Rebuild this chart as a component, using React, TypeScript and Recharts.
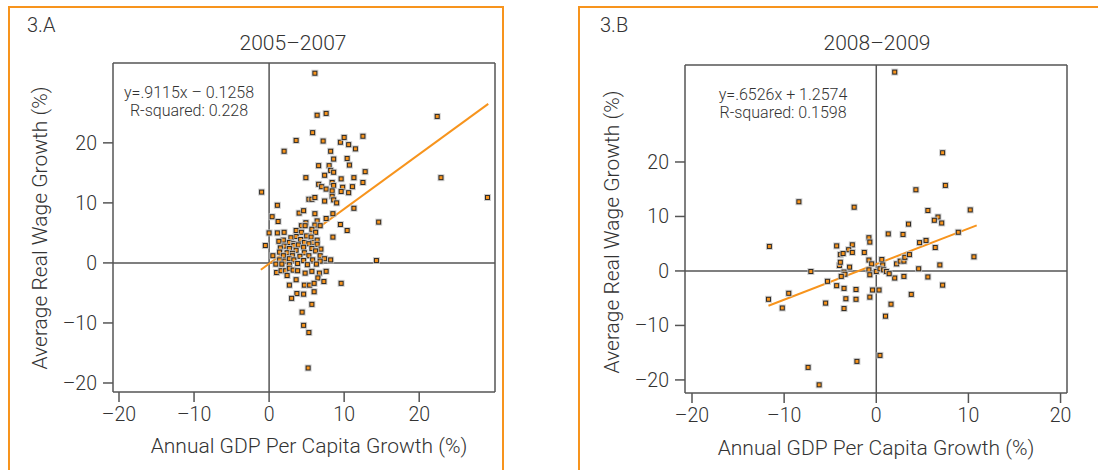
import React from "react"
import { ScatterChart, Scatter, XAxis, YAxis, ReferenceLine } from "recharts"

// 3.A: 2005–2007, GDP per capita growth vs real wage growth (%)
const gdpA = [
  6.1, 6.4, 7.6, 5.8, 3.6, 7.2, 9.5, 10.0, 12.5, 10.6, 11.5, 2.0, 8.2, 8.6, 10.4, 6.6, 8.0, 10.7, 8.2, 8.6,
  12.8, 7.4, 4.9, 9.6, 11.3, 12.5, 8.4, 6.6, 7.0, 7.6, 8.6, 9.8, 11.1, 8.4, 9.6, 10.6, -1.0, 5.3, 5.7, 6.1,
  7.4, 8.4, 8.6, 9.0, 1.1, 11.3, 4.0, 4.6, 6.1, 8.5, 0.4, 1.2, 7.6, 6.4, 4.9, 4.3, 4.8, 6.1, 6.8, 9.5,
  14.6, 3.6, 5.7, 4.3, 6.2, 10.4, 0.0, 1.1, 2.0, 3.6, 5.0, 5.6, 8.5, 2.9, 4.2, 1.9, 1.3, 2.7, 3.3, 4.7,
  5.8, 6.4, -0.5, 2.0, 3.3, 3.9, 5.3, 6.4, 1.5, 2.7, 4.6, 5.7, 6.9, 3.6, 1.4, 2.4, 3.1, 4.7, 6.2, 0.5,
  1.9, 3.1, 4.1, 5.3, 6.8, 7.4, 8.2, 14.3, 1.4, 2.1, 2.7, 3.3, 4.6, 5.8, 6.8, 0.9, 1.7, 2.7, 3.8, 5.1,
  6.3, 1.0, 1.6, 2.2, 2.7, 3.2, 3.8, 4.8, 5.7, 6.7, 7.6, 2.4, 6.5, 3.6, 7.3, 9.6, 2.7, 4.7, 5.4, 6.0,
  3.7, 4.6, 6.0, 3.0, 5.7, 4.4, 4.6, 5.3, 5.2, 22.4, 22.9, 29.1,
]
const wageA = [
  31.6, 24.6, 24.9, 21.7, 20.4, 20.3, 20.1, 20.9, 21.1, 19.7, 19.0, 18.6, 18.6, 17.3, 17.4, 16.2, 16.2, 16.3, 15.4, 15.1,
  15.2, 14.6, 14.2, 14.0, 14.2, 13.4, 13.4, 13.1, 12.7, 12.3, 12.9, 12.6, 12.7, 12.0, 11.9, 11.7, 11.8, 10.6, 10.6, 10.9,
  10.3, 11.1, 10.5, 10.0, 9.6, 9.1, 8.3, 8.7, 8.2, 8.2, 7.7, 6.9, 7.4, 7.0, 6.7, 6.2, 6.2, 6.3, 6.2, 6.4,
  6.8, 5.4, 5.6, 5.1, 5.1, 5.4, 5.0, 5.0, 5.1, 4.4, 4.5, 4.3, 4.3, 4.2, 3.9, 3.8, 3.6, 3.4, 3.2, 3.4,
  3.4, 3.8, 2.9, 2.8, 2.9, 3.0, 3.2, 3.1, 2.5, 2.4, 2.6, 2.4, 2.3, 2.1, 1.8, 1.7, 1.6, 1.7, 2.0, 1.2,
  1.2, 1.2, 1.1, 1.2, 1.2, 0.7, 0.5, 0.4, 0.5, 0.3, 0.7, 0.5, 0.4, 0.5, 0.3, -0.2, -0.2, -0.3, -0.1, -0.3,
  -0.2, -1.6, -1.3, -1.3, -0.9, -1.2, -1.3, -1.7, -1.4, -1.7, -1.4, -2.1, -2.5, -2.8, -3.1, -3.4, -3.7, -3.7, -3.7, -3.4,
  -5.1, -5.2, -4.8, -5.9, -6.9, -8.2, -10.4, -11.6, -17.5, 24.4, 14.2, 10.9,
]

// 3.B: 2008–2009
const gdpB = [
  2.0, 7.2, 7.5, 4.3, -8.4, -2.4, 5.6, 10.2, 6.7, 6.3, 7.1, 3.5, 8.9, 1.3, 2.9, -0.8, -0.7, -11.6, -4.3, -2.6,
  4.7, 5.4, -3.0, -3.9, -3.6, -2.6, -1.3, 6.4, 10.6, -7.1, -5.3, -9.5, -11.7, -10.2, -5.5, -4.3, -3.5, -2.2, -3.3, -2.2,
  -3.5, -0.7, -0.4, 0.3, 1.6, 1.0, 3.8, 0.4, -2.1, -7.4, -6.2, 7.2, 5.6, 3.0, 2.0, 6.9, 4.6, -4.0, -3.9, -2.9,
  -3.5, -3.4, -3.8, -0.8, -0.5, -0.8, -0.7, 0.6, 0.7, 0.0, 0.4, 0.8, 1.1, 1.4, 2.2, 2.6, 3.0, 3.1, 3.6,
]
const wageB = [
  36.5, 21.7, 15.7, 14.9, 12.7, 11.7, 11.1, 11.2, 9.9, 9.3, 8.8, 8.6, 7.1, 6.8, 6.7, 6.1, 5.3, 4.5, 4.6, 4.8,
  5.2, 5.6, 3.9, 3.0, 3.2, 3.4, 3.4, 4.3, 2.6, -0.1, -1.9, -4.1, -5.2, -6.8, -5.9, -2.7, -3.2, -3.4, -5.1, -5.2,
  -6.9, -4.8, -3.5, -3.5, -6.1, -8.3, -4.3, -15.5, -16.6, -17.7, -20.9, -2.6, -1.1, -1.0, -1.3, 1.1, 0.4, 1.0, 1.6, 0.7,
  -0.2, -0.6, -1.0, 2.0, 1.3, 0.2, -0.7, 2.1, 1.1, -0.1, 0.4, 0.2, -0.1, -0.5, 1.3, 1.8, 1.8, 2.5, 3.0,
]

const axisTicks = [-20, -10, 0, 10, 20]

const ORANGE = "#f7941d"
const AXIS = "#555"
const FONT = 'Roboto, "Liberation Sans", sans-serif'

const toPoints = (xs: number[], ys: number[]) => xs.map((x, i) => ({ x, y: ys[i] }))
const fmt = (v: number) => (v < 0 ? `–${-v}` : `${v}`)

// small dark square with orange centre and a faint grey halo
const Marker = (props: any) => {
  const { cx, cy } = props
  if (cx == null || cy == null) return null
  return (
    <g>
      <rect x={cx - 3.5} y={cy - 3.5} width={7} height={7} fill="#c4c4c4" opacity={0.8} />
      <rect x={cx - 2.5} y={cy - 2.5} width={5} height={5} fill="#2e2a26" />
      <rect x={cx - 1.5} y={cy - 1.5} width={3} height={3} fill={ORANGE} />
    </g>
  )
}

type PanelProps = {
  left: number
  width: number
  margin: { top: number; right: number; bottom: number; left: number }
  xDomain: [number, number]
  yDomain: [number, number]
  points: { x: number; y: number }[]
  slope: number
  intercept: number
  fitRange: [number, number]
}

function Panel({ left, width, margin, xDomain, yDomain, points, slope, intercept, fitRange }: PanelProps) {
  const tick = { fontSize: 19.5, fill: "#333", fontFamily: FONT, fontWeight: 300 }
  const fit = fitRange.map((x) => ({ x, y: slope * x + intercept }))
  return (
    <div style={{ position: "absolute", left, top: 0 }}>
      <ScatterChart width={width} height={470} margin={margin}>
        <XAxis
          type="number"
          dataKey="x"
          domain={xDomain}
          ticks={axisTicks}
          allowDataOverflow
          tickFormatter={fmt}
          tickSize={10}
          tickMargin={5}
          height={40}
          stroke={AXIS}
          strokeWidth={1.5}
          tick={tick}
        />
        <YAxis
          type="number"
          dataKey="y"
          domain={yDomain}
          ticks={axisTicks}
          allowDataOverflow
          tickFormatter={fmt}
          tickSize={10}
          tickMargin={6}
          width={60}
          stroke={AXIS}
          strokeWidth={1.5}
          tick={tick}
        />
        <ReferenceLine x={xDomain[1]} stroke={AXIS} strokeWidth={1.5} />
        <ReferenceLine y={yDomain[1]} stroke={AXIS} strokeWidth={1.5} />
        <ReferenceLine x={0} stroke={AXIS} strokeWidth={1.5} />
        <ReferenceLine y={0} stroke={AXIS} strokeWidth={1.5} />
        <Scatter data={points} shape={Marker} isAnimationActive={false} />
        <ReferenceLine segment={fit} stroke={ORANGE} strokeWidth={2} />
      </ScatterChart>
    </div>
  )
}

const text = (style: React.CSSProperties): React.CSSProperties => ({
  position: "absolute",
  fontFamily: FONT,
  fontWeight: 300,
  color: "#333",
  whiteSpace: "nowrap",
  lineHeight: 1,
  ...style,
})

const center = (x: number, y: number, size: number): React.CSSProperties =>
  text({ left: x, top: y, fontSize: size, transform: "translate(-50%, -50%)" })

const vertical = (x: number, y: number, size: number): React.CSSProperties =>
  text({ left: x, top: y, fontSize: size, transform: "translate(-50%, -50%) rotate(-90deg)" })

export default function App() {
  return (
    <div style={{ position: "absolute", left: 0, top: 0, width: 1098, height: 470, background: "#fff", overflow: "hidden" }}>
      <div style={{ position: "absolute", left: 8, top: 6, width: 492, height: 480, border: `2px solid ${ORANGE}` }} />
      <div style={{ position: "absolute", left: 578, top: 6, width: 540, height: 480, border: `2px solid ${ORANGE}` }} />

      <Panel
        left={0}
        width={540}
        margin={{ top: 63, right: 45, bottom: 38, left: 53 }}
        xDomain={[-20.8, 30.1]}
        yDomain={[-21.5, 33.3]}
        points={toPoints(gdpA, wageA)}
        slope={0.9115}
        intercept={-0.1258}
        fitRange={[-1.1, 29.2]}
      />
      <Panel
        left={560}
        width={538}
        margin={{ top: 65, right: 31, bottom: 37, left: 65 }}
        xDomain={[-20.76, 20.7]}
        yDomain={[-22.4, 37.8]}
        points={toPoints(gdpB, wageB)}
        slope={0.6526}
        intercept={1.2574}
        fitRange={[-11.7, 10.9]}
      />

      <div style={text({ left: 27, top: 15, fontSize: 20 })}>3.A</div>
      <div style={center(293, 43, 21)}>2005–2007</div>
      <div style={center(189, 93, 16)}>y=.9115x – 0.1258</div>
      <div style={center(189, 111, 16)}>R-squared: 0.228</div>
      <div style={vertical(40, 228, 21)}>Average Real Wage Growth (%)</div>
      <div style={center(309, 446, 21)}>Annual GDP Per Capita Growth (%)</div>

      <div style={text({ left: 600, top: 15, fontSize: 20 })}>3.B</div>
      <div style={center(877, 43, 21)}>2008–2009</div>
      <div style={center(783, 95, 16)}>y=.6526x + 1.2574</div>
      <div style={center(783, 113, 16)}>R-squared: 0.1598</div>
      <div style={vertical(612, 232, 21)}>Average Real Wage Growth (%)</div>
      <div style={center(876, 448, 21)}>Annual GDP Per Capita Growth (%)</div>
    </div>
  )
}
